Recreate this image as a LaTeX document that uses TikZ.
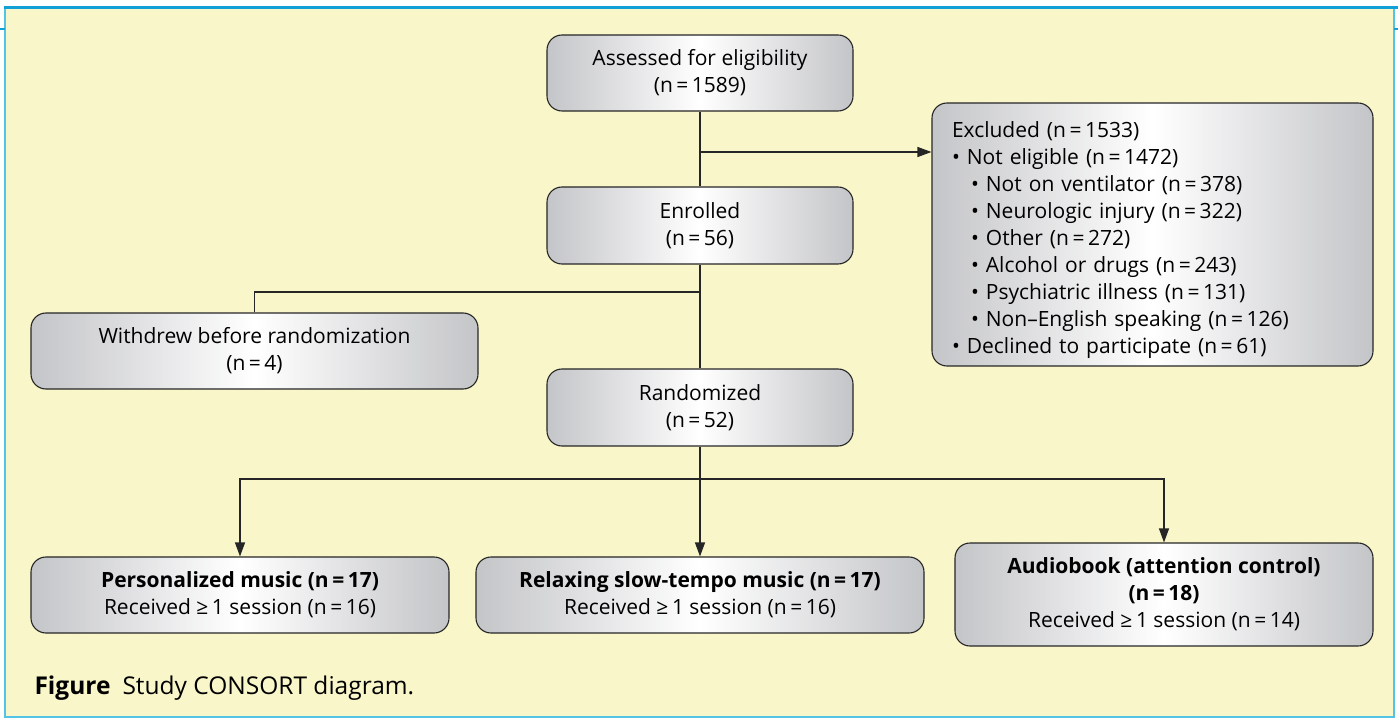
\documentclass[tikz,border=0pt]{standalone}
\usepackage{fontspec}
\setmainfont{Open Sans}
\usetikzlibrary{arrows.meta}
\definecolor{panelyellow}{RGB}{249,247,201}
\definecolor{borderblue}{RGB}{18,160,214}
\definecolor{borderlight}{RGB}{84,196,230}
\definecolor{boxgray}{RGB}{196,197,200}
\definecolor{linegray}{RGB}{38,38,38}
\newcommand{\nval}[1]{(n\,=\,#1)}
\tikzset{%
  flowbox/.style = {shape=rectangle, rounded corners=15pt,%
                    draw=linegray, line width=1.1pt, align=center,%
                    left color=boxgray, right color=boxgray, middle color=white,%
                    inner sep=0pt},%
  listbox/.style = {flowbox, align=left, inner xsep=20pt},%
  link/.style    = {draw=linegray, line width=1.2pt},%
  arrow/.style   = {link, -{Triangle[length=14pt,width=10pt]}}%
}

\begin{document}
\begin{tikzpicture}[x=1pt,y=-1pt,every node/.style={font=\fontsize{21}{27}\selectfont}]
	\useasboundingbox (0,0) rectangle (1398,719);
	% panel
	\fill[panelyellow] (5,8) rectangle (1394,717);
	\draw[borderlight,line width=2pt] (5,8) -- (5,717) -- (1394,717) -- (1394,8);
	\draw[borderblue,line width=3pt] (4,8) -- (1398,8);
	\draw[borderblue,line width=2pt] (0,29) -- (5,29) (1394,29) -- (1398,29);
	% boxes
	\node[flowbox,minimum width=306pt,minimum height=76pt] (assess) at (700,73)
		{Assessed for eligibility\\\nval{1589}};
	\node[flowbox,minimum width=306pt,minimum height=77pt] (enrol) at (700,225.5)
		{Enrolled\\\nval{56}};
	\node[flowbox,minimum width=306pt,minimum height=77pt] (random) at (700,407.5)
		{Randomized\\\nval{52}};
	\node[flowbox,minimum width=447pt,minimum height=76pt] (withdraw) at (254.5,351)
		{Withdrew before randomization\\\nval{4}};
	\node[listbox,text width=401pt,minimum height=263pt] (excl) at (1152.5,234.5)
		{\rule{0pt}{28pt}Excluded \nval{1533}\\
		 \textbullet\ Not eligible \nval{1472}\\
		 \hspace*{19pt}\textbullet\ Not on ventilator \nval{378}\\
		 \hspace*{19pt}\textbullet\ Neurologic injury \nval{322}\\
		 \hspace*{19pt}\textbullet\ Other \nval{272}\\
		 \hspace*{19pt}\textbullet\ Alcohol or drugs \nval{243}\\
		 \hspace*{19pt}\textbullet\ Psychiatric illness \nval{131}\\
		 \hspace*{19pt}\textbullet\ Non–English speaking \nval{126}\\
		 \textbullet\ Declined to participate \nval{61}};
	\node[flowbox,minimum width=418pt,minimum height=76pt] (pers) at (240,595)
		{\textbf{Personalized music \nval{17}}\\Received ≥\,1 session \nval{16}};
	\node[flowbox,minimum width=448pt,minimum height=76pt] (relax) at (700,595)
		{\textbf{Relaxing slow-tempo music \nval{17}}\\Received ≥\,1 session \nval{16}};
	\node[flowbox,minimum width=418pt,minimum height=103pt] (audio) at (1164,594.5)
		{\textbf{Audiobook (attention control)}\\\textbf{\nval{18}}\\Received ≥\,1 session \nval{14}};
	% connectors
	\coordinate (exclsplit) at (700,152);
	\coordinate (wdsplit) at (700,292);
	\coordinate (armsplit) at (700,479);
	\draw[link] (assess.south) -- (enrol.north);
	\draw[arrow] (exclsplit) -- (exclsplit -| excl.west);
	\draw[link] (enrol.south) -- (random.north);
	\draw[link] (wdsplit) -| (withdraw.north);
	\draw[arrow] (random.south) -- (relax.north);
	\draw[arrow] (armsplit) -| (pers.north);
	\draw[arrow] (armsplit) -| (audio.north);
	% caption
	\node[anchor=base west,font=\fontsize{24.5}{28}\selectfont] (caption) at (31,694)
		{\textbf{Figure}\hspace{12pt}Study CONSORT diagram.};
\end{tikzpicture}
\end{document}
